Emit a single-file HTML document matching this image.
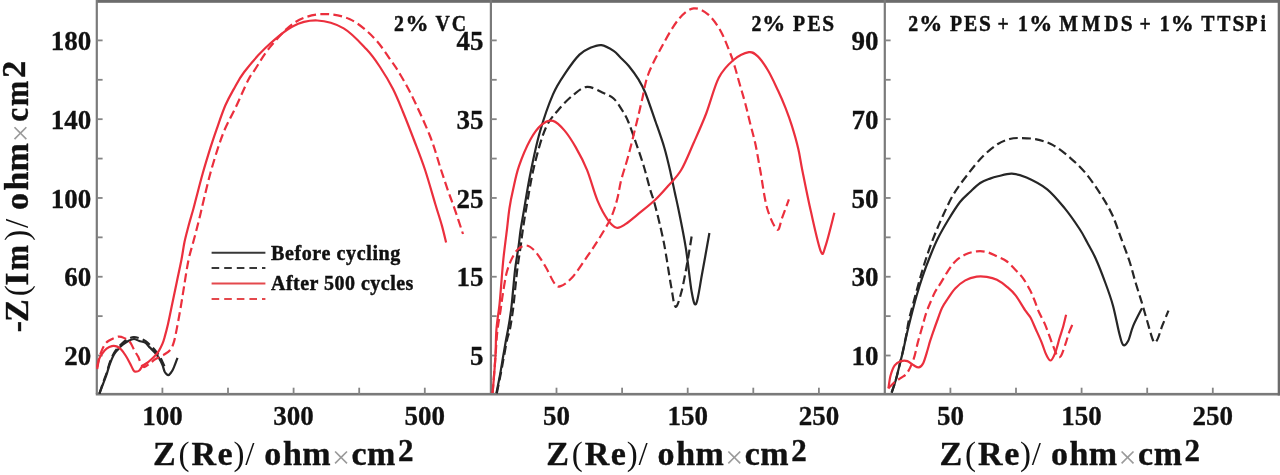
<!DOCTYPE html>
<html><head><meta charset="utf-8"><title>Nyquist plots</title>
<style>html,body{margin:0;padding:0;background:#fff;width:1280px;height:475px;overflow:hidden}svg{display:block;filter:blur(0.35px)}</style>
</head><body>
<svg width="1280" height="475" viewBox="0 0 1280 475">
<rect width="1280" height="475" fill="#fff"/>
<g><rect x="96" y="0" width="1184" height="2.8" fill="#6c6c6c"/><rect x="95.8" y="392.9" width="1184" height="2.6" fill="#7a7a7a"/><rect x="95.70" y="0" width="2.2" height="394.2" fill="#7a7a7a"/><rect x="489.80" y="0" width="2.2" height="394.2" fill="#7a7a7a"/><rect x="883.70" y="0" width="2.2" height="394.2" fill="#7a7a7a"/><rect x="1277.7" y="0" width="2.3" height="395.5" fill="#6c6c6c"/><rect x="96.8" y="39.50" width="5.8" height="1.8" fill="#858585"/><rect x="96.8" y="78.89" width="5.8" height="1.8" fill="#858585"/><rect x="96.8" y="118.28" width="5.8" height="1.8" fill="#858585"/><rect x="96.8" y="157.67" width="5.8" height="1.8" fill="#858585"/><rect x="96.8" y="197.06" width="5.8" height="1.8" fill="#858585"/><rect x="96.8" y="236.45" width="5.8" height="1.8" fill="#858585"/><rect x="96.8" y="275.84" width="5.8" height="1.8" fill="#858585"/><rect x="96.8" y="315.23" width="5.8" height="1.8" fill="#858585"/><rect x="96.8" y="354.62" width="5.8" height="1.8" fill="#858585"/><rect x="490.9" y="39.50" width="5.8" height="1.8" fill="#858585"/><rect x="490.9" y="78.89" width="5.8" height="1.8" fill="#858585"/><rect x="490.9" y="118.28" width="5.8" height="1.8" fill="#858585"/><rect x="490.9" y="157.67" width="5.8" height="1.8" fill="#858585"/><rect x="490.9" y="197.06" width="5.8" height="1.8" fill="#858585"/><rect x="490.9" y="236.45" width="5.8" height="1.8" fill="#858585"/><rect x="490.9" y="275.84" width="5.8" height="1.8" fill="#858585"/><rect x="490.9" y="315.23" width="5.8" height="1.8" fill="#858585"/><rect x="490.9" y="354.62" width="5.8" height="1.8" fill="#858585"/><rect x="884.8" y="39.50" width="5.8" height="1.8" fill="#858585"/><rect x="884.8" y="78.89" width="5.8" height="1.8" fill="#858585"/><rect x="884.8" y="118.28" width="5.8" height="1.8" fill="#858585"/><rect x="884.8" y="157.67" width="5.8" height="1.8" fill="#858585"/><rect x="884.8" y="197.06" width="5.8" height="1.8" fill="#858585"/><rect x="884.8" y="236.45" width="5.8" height="1.8" fill="#858585"/><rect x="884.8" y="275.84" width="5.8" height="1.8" fill="#858585"/><rect x="884.8" y="315.23" width="5.8" height="1.8" fill="#858585"/><rect x="884.8" y="354.62" width="5.8" height="1.8" fill="#858585"/><rect x="161.50" y="387.70" width="1.8" height="6.5" fill="#858585"/><rect x="227.10" y="387.70" width="1.8" height="6.5" fill="#858585"/><rect x="292.70" y="387.70" width="1.8" height="6.5" fill="#858585"/><rect x="358.30" y="387.70" width="1.8" height="6.5" fill="#858585"/><rect x="423.90" y="387.70" width="1.8" height="6.5" fill="#858585"/><rect x="555.60" y="387.70" width="1.8" height="6.5" fill="#858585"/><rect x="621.20" y="387.70" width="1.8" height="6.5" fill="#858585"/><rect x="686.80" y="387.70" width="1.8" height="6.5" fill="#858585"/><rect x="752.40" y="387.70" width="1.8" height="6.5" fill="#858585"/><rect x="818.00" y="387.70" width="1.8" height="6.5" fill="#858585"/><rect x="949.50" y="387.70" width="1.8" height="6.5" fill="#858585"/><rect x="1015.10" y="387.70" width="1.8" height="6.5" fill="#858585"/><rect x="1080.70" y="387.70" width="1.8" height="6.5" fill="#858585"/><rect x="1146.30" y="387.70" width="1.8" height="6.5" fill="#858585"/><rect x="1211.90" y="387.70" width="1.8" height="6.5" fill="#858585"/></g>
<g font-family='"Liberation Serif", serif' font-weight="bold"><text x="91.3" y="50.1" font-size="27" text-anchor="end" fill="#111" stroke="#111" stroke-width="0.3">180</text><text x="91.3" y="128.9" font-size="27" text-anchor="end" fill="#111" stroke="#111" stroke-width="0.3">140</text><text x="91.3" y="207.7" font-size="27" text-anchor="end" fill="#111" stroke="#111" stroke-width="0.3">100</text><text x="91.3" y="286.4" font-size="27" text-anchor="end" fill="#111" stroke="#111" stroke-width="0.3">60</text><text x="91.3" y="365.2" font-size="27" text-anchor="end" fill="#111" stroke="#111" stroke-width="0.3">20</text><text x="483.6" y="50.1" font-size="27" text-anchor="end" fill="#111" stroke="#111" stroke-width="0.3">45</text><text x="483.6" y="128.9" font-size="27" text-anchor="end" fill="#111" stroke="#111" stroke-width="0.3">35</text><text x="483.6" y="207.7" font-size="27" text-anchor="end" fill="#111" stroke="#111" stroke-width="0.3">25</text><text x="483.6" y="286.4" font-size="27" text-anchor="end" fill="#111" stroke="#111" stroke-width="0.3">15</text><text x="483.6" y="365.2" font-size="27" text-anchor="end" fill="#111" stroke="#111" stroke-width="0.3">5</text><text x="878.4" y="50.1" font-size="27" text-anchor="end" fill="#111" stroke="#111" stroke-width="0.3">90</text><text x="878.4" y="128.9" font-size="27" text-anchor="end" fill="#111" stroke="#111" stroke-width="0.3">70</text><text x="878.4" y="207.7" font-size="27" text-anchor="end" fill="#111" stroke="#111" stroke-width="0.3">50</text><text x="878.4" y="286.4" font-size="27" text-anchor="end" fill="#111" stroke="#111" stroke-width="0.3">30</text><text x="878.4" y="365.2" font-size="27" text-anchor="end" fill="#111" stroke="#111" stroke-width="0.3">10</text><text x="162.4" y="424.5" font-size="27" text-anchor="middle" fill="#111" stroke="#111" stroke-width="0.3">100</text><text x="293.6" y="424.5" font-size="27" text-anchor="middle" fill="#111" stroke="#111" stroke-width="0.3">300</text><text x="424.8" y="424.5" font-size="27" text-anchor="middle" fill="#111" stroke="#111" stroke-width="0.3">500</text><text x="556.5" y="424.5" font-size="27" text-anchor="middle" fill="#111" stroke="#111" stroke-width="0.3">50</text><text x="687.7" y="424.5" font-size="27" text-anchor="middle" fill="#111" stroke="#111" stroke-width="0.3">150</text><text x="818.9" y="424.5" font-size="27" text-anchor="middle" fill="#111" stroke="#111" stroke-width="0.3">250</text><text x="950.4" y="424.5" font-size="27" text-anchor="middle" fill="#111" stroke="#111" stroke-width="0.3">50</text><text x="1081.6" y="424.5" font-size="27" text-anchor="middle" fill="#111" stroke="#111" stroke-width="0.3">150</text><text x="1212.8" y="424.5" font-size="27" text-anchor="middle" fill="#111" stroke="#111" stroke-width="0.3">250</text><text transform="translate(394.08,31.00) scale(0.86,1)" font-size="23" font-weight="bold" fill="#111" stroke="#111" stroke-width="0.45">2</text><text x="405.44" y="31.00" font-size="23" font-weight="bold" fill="#111" stroke="#111" stroke-width="0.45">%</text><text transform="translate(435.50,31.00) scale(0.86,1)" font-size="23" font-weight="bold" fill="#111" stroke="#111" stroke-width="0.45">V</text><text transform="translate(451.87,31.00) scale(0.86,1)" font-size="23" font-weight="bold" fill="#111" stroke="#111" stroke-width="0.45">C</text><text transform="translate(751.38,31.00) scale(0.86,1)" font-size="23" font-weight="bold" fill="#111" stroke="#111" stroke-width="0.45">2</text><text x="762.14" y="31.00" font-size="23" font-weight="bold" fill="#111" stroke="#111" stroke-width="0.45">%</text><text transform="translate(792.89,31.00) scale(0.86,1)" font-size="23" font-weight="bold" fill="#111" stroke="#111" stroke-width="0.45">P</text><text transform="translate(807.39,31.00) scale(0.86,1)" font-size="23" font-weight="bold" fill="#111" stroke="#111" stroke-width="0.45">E</text><text transform="translate(822.30,31.00) scale(0.93,1)" font-size="23" font-weight="bold" fill="#111" stroke="#111" stroke-width="0.45">S</text><text transform="translate(908.18,31.00) scale(0.86,1)" font-size="23" font-weight="bold" fill="#111" stroke="#111" stroke-width="0.45">2</text><text x="919.14" y="31.00" font-size="23" font-weight="bold" fill="#111" stroke="#111" stroke-width="0.45">%</text><text transform="translate(949.89,31.00) scale(0.86,1)" font-size="23" font-weight="bold" fill="#111" stroke="#111" stroke-width="0.45">P</text><text transform="translate(963.89,31.00) scale(0.86,1)" font-size="23" font-weight="bold" fill="#111" stroke="#111" stroke-width="0.45">E</text><text transform="translate(978.90,31.00) scale(0.93,1)" font-size="23" font-weight="bold" fill="#111" stroke="#111" stroke-width="0.45">S</text><text transform="translate(997.57,31.00) scale(0.86,1)" font-size="23" font-weight="bold" fill="#111" stroke="#111" stroke-width="0.45">+</text><text transform="translate(1018.05,31.00) scale(0.86,1)" font-size="23" font-weight="bold" fill="#111" stroke="#111" stroke-width="0.45">1</text><text x="1029.14" y="31.00" font-size="23" font-weight="bold" fill="#111" stroke="#111" stroke-width="0.45">%</text><text transform="translate(1059.14,31.00) scale(0.86,1)" font-size="23" font-weight="bold" fill="#111" stroke="#111" stroke-width="0.45">M</text><text transform="translate(1081.69,31.00) scale(0.86,1)" font-size="23" font-weight="bold" fill="#111" stroke="#111" stroke-width="0.45">M</text><text transform="translate(1104.29,31.00) scale(0.86,1)" font-size="23" font-weight="bold" fill="#111" stroke="#111" stroke-width="0.45">D</text><text transform="translate(1120.80,31.00) scale(0.93,1)" font-size="23" font-weight="bold" fill="#111" stroke="#111" stroke-width="0.45">S</text><text transform="translate(1139.57,31.00) scale(0.86,1)" font-size="23" font-weight="bold" fill="#111" stroke="#111" stroke-width="0.45">+</text><text transform="translate(1159.85,31.00) scale(0.86,1)" font-size="23" font-weight="bold" fill="#111" stroke="#111" stroke-width="0.45">1</text><text x="1170.84" y="31.00" font-size="23" font-weight="bold" fill="#111" stroke="#111" stroke-width="0.45">%</text><text transform="translate(1201.29,31.00) scale(0.86,1)" font-size="23" font-weight="bold" fill="#111" stroke="#111" stroke-width="0.45">T</text><text transform="translate(1217.29,31.00) scale(0.86,1)" font-size="23" font-weight="bold" fill="#111" stroke="#111" stroke-width="0.45">T</text><text transform="translate(1232.50,31.00) scale(0.93,1)" font-size="23" font-weight="bold" fill="#111" stroke="#111" stroke-width="0.45">S</text><text transform="translate(1245.39,31.00) scale(0.86,1)" font-size="23" font-weight="bold" fill="#111" stroke="#111" stroke-width="0.45">P</text><text transform="translate(1260.39,31.00) scale(0.86,1)" font-size="23" font-weight="bold" fill="#111" stroke="#111" stroke-width="0.45">i</text><text x="153.01" y="465.00" font-size="34" font-weight="bold" fill="#111" stroke="#111" stroke-width="0.35">Z</text><text x="178.47" y="465.00" font-size="33" font-weight="normal" fill="#111">(</text><text x="191.47" y="465.00" font-size="34" font-weight="bold" fill="#111" stroke="#111" stroke-width="0.35">R</text><text x="217.54" y="465.00" font-size="34" font-weight="bold" fill="#111" stroke="#111" stroke-width="0.35">e</text><text x="233.47" y="465.00" font-size="33" font-weight="normal" fill="#111">)</text><text x="245.20" y="465.00" font-size="33" font-weight="normal" fill="#111">/</text><text x="264.34" y="465.00" font-size="34" font-weight="bold" fill="#111" stroke="#111" stroke-width="0.35">o</text><text x="282.97" y="465.00" font-size="34" font-weight="bold" fill="#111" stroke="#111" stroke-width="0.35">h</text><text x="302.27" y="465.00" font-size="34" font-weight="bold" fill="#111" stroke="#111" stroke-width="0.35">m</text><text x="332.00" y="468.00" font-size="32" font-weight="normal" fill="#9a9a9a">×</text><text x="351.44" y="465.00" font-size="34" font-weight="bold" fill="#111" stroke="#111" stroke-width="0.35">c</text><text x="367.07" y="465.00" font-size="34" font-weight="bold" fill="#111" stroke="#111" stroke-width="0.35">m</text><text x="397.93" y="461.00" font-size="31" font-weight="bold" fill="#111" stroke="#111" stroke-width="0.35">2</text><text x="546.21" y="465.00" font-size="34" font-weight="bold" fill="#111" stroke="#111" stroke-width="0.35">Z</text><text x="571.67" y="465.00" font-size="33" font-weight="normal" fill="#111">(</text><text x="584.67" y="465.00" font-size="34" font-weight="bold" fill="#111" stroke="#111" stroke-width="0.35">R</text><text x="610.74" y="465.00" font-size="34" font-weight="bold" fill="#111" stroke="#111" stroke-width="0.35">e</text><text x="626.67" y="465.00" font-size="33" font-weight="normal" fill="#111">)</text><text x="638.40" y="465.00" font-size="33" font-weight="normal" fill="#111">/</text><text x="657.54" y="465.00" font-size="34" font-weight="bold" fill="#111" stroke="#111" stroke-width="0.35">o</text><text x="676.17" y="465.00" font-size="34" font-weight="bold" fill="#111" stroke="#111" stroke-width="0.35">h</text><text x="695.47" y="465.00" font-size="34" font-weight="bold" fill="#111" stroke="#111" stroke-width="0.35">m</text><text x="725.20" y="468.00" font-size="32" font-weight="normal" fill="#9a9a9a">×</text><text x="744.64" y="465.00" font-size="34" font-weight="bold" fill="#111" stroke="#111" stroke-width="0.35">c</text><text x="760.27" y="465.00" font-size="34" font-weight="bold" fill="#111" stroke="#111" stroke-width="0.35">m</text><text x="791.13" y="461.00" font-size="31" font-weight="bold" fill="#111" stroke="#111" stroke-width="0.35">2</text><text x="939.61" y="465.00" font-size="34" font-weight="bold" fill="#111" stroke="#111" stroke-width="0.35">Z</text><text x="965.07" y="465.00" font-size="33" font-weight="normal" fill="#111">(</text><text x="978.07" y="465.00" font-size="34" font-weight="bold" fill="#111" stroke="#111" stroke-width="0.35">R</text><text x="1004.14" y="465.00" font-size="34" font-weight="bold" fill="#111" stroke="#111" stroke-width="0.35">e</text><text x="1020.07" y="465.00" font-size="33" font-weight="normal" fill="#111">)</text><text x="1031.80" y="465.00" font-size="33" font-weight="normal" fill="#111">/</text><text x="1050.94" y="465.00" font-size="34" font-weight="bold" fill="#111" stroke="#111" stroke-width="0.35">o</text><text x="1069.57" y="465.00" font-size="34" font-weight="bold" fill="#111" stroke="#111" stroke-width="0.35">h</text><text x="1088.87" y="465.00" font-size="34" font-weight="bold" fill="#111" stroke="#111" stroke-width="0.35">m</text><text x="1118.60" y="468.00" font-size="32" font-weight="normal" fill="#9a9a9a">×</text><text x="1138.04" y="465.00" font-size="34" font-weight="bold" fill="#111" stroke="#111" stroke-width="0.35">c</text><text x="1153.67" y="465.00" font-size="34" font-weight="bold" fill="#111" stroke="#111" stroke-width="0.35">m</text><text x="1184.53" y="461.00" font-size="31" font-weight="bold" fill="#111" stroke="#111" stroke-width="0.35">2</text><text transform="translate(27.70,332.36) rotate(-90)" font-size="34" font-weight="bold" fill="#111" stroke="#111" stroke-width="0.35">-</text><text transform="translate(27.70,321.89) rotate(-90)" font-size="34" font-weight="bold" fill="#111" stroke="#111" stroke-width="0.35">Z</text><text transform="translate(27.70,296.33) rotate(-90)" font-size="33" font-weight="normal" fill="#111">(</text><text transform="translate(27.70,285.86) rotate(-90)" font-size="34" font-weight="bold" fill="#111" stroke="#111" stroke-width="0.35">I</text><text transform="translate(27.70,270.38) rotate(-90) scale(0.9,1)" font-size="34" font-weight="bold" fill="#111" stroke="#111" stroke-width="0.35">m</text><text transform="translate(27.70,240.83) rotate(-90)" font-size="33" font-weight="normal" fill="#111">)</text><text transform="translate(27.70,227.90) rotate(-90)" font-size="33" font-weight="normal" fill="#111">/</text><text transform="translate(27.70,209.96) rotate(-90)" font-size="34" font-weight="bold" fill="#111" stroke="#111" stroke-width="0.35">o</text><text transform="translate(27.70,190.43) rotate(-90)" font-size="34" font-weight="bold" fill="#111" stroke="#111" stroke-width="0.35">h</text><text transform="translate(27.70,171.43) rotate(-90)" font-size="34" font-weight="bold" fill="#111" stroke="#111" stroke-width="0.35">m</text><text transform="translate(30.70,142.30) rotate(-90)" font-size="32" font-weight="normal" fill="#9a9a9a">×</text><text transform="translate(27.70,121.68) rotate(-90) scale(0.92,1)" font-size="34" font-weight="bold" fill="#111" stroke="#111" stroke-width="0.35">c</text><text transform="translate(27.70,106.18) rotate(-90) scale(0.9,1)" font-size="34" font-weight="bold" fill="#111" stroke="#111" stroke-width="0.35">m</text><text transform="translate(24.90,77.98) rotate(-90) scale(1.05,1)" font-size="33" font-weight="bold" fill="#111" stroke="#111" stroke-width="0.35">2</text><text x="271" y="259.6" font-size="20" text-anchor="start" letter-spacing="0.62" fill="#111" stroke="#111" stroke-width="0.45">Before cycling</text><text x="271" y="290.3" font-size="20" text-anchor="start" letter-spacing="0.48" fill="#111" stroke="#111" stroke-width="0.45">After 500 cycles</text></g>
<g><line x1="211.6" y1="252.8" x2="265.4" y2="252.8" stroke="#383838" stroke-width="2"/><line x1="211.6" y1="268" x2="265.4" y2="268" stroke="#383838" stroke-width="2" stroke-dasharray="7.6 5"/><line x1="211.6" y1="283.4" x2="265.4" y2="283.4" stroke="#e4484c" stroke-width="2"/><line x1="211.6" y1="299" x2="265.4" y2="299" stroke="#e4484c" stroke-width="2" stroke-dasharray="7.6 5"/></g>
<g><path d="M99.4,393.6 C100.0,391.8 101.8,386.4 103.0,383.0 C104.2,379.6 105.4,376.5 106.6,373.0 C107.8,369.5 108.8,365.3 110.0,362.0 C111.2,358.7 112.6,355.4 114.0,353.0 C115.4,350.6 116.7,349.2 118.2,347.5 C119.7,345.8 121.2,344.0 123.0,342.5 C124.8,341.0 127.2,339.4 129.0,338.5 C130.8,337.6 132.2,337.0 134.0,337.0 C135.8,337.0 138.0,337.8 140.0,338.5 C142.0,339.2 144.2,340.2 146.0,341.5 C147.8,342.8 149.3,344.3 151.0,346.0 C152.7,347.7 154.5,349.7 156.0,351.5 C157.5,353.3 158.8,355.1 160.0,357.0 C161.2,358.9 162.1,361.0 163.0,363.0 C163.9,365.0 165.1,368.0 165.5,369.0" fill="none" stroke="#262626" stroke-width="2.2" stroke-linejoin="round" stroke-dasharray="8.8 4.3"/><path d="M99.4,393.6 C100.0,392.0 101.8,387.2 103.0,384.0 C104.2,380.8 105.5,377.8 106.6,374.5 C107.7,371.2 108.6,367.3 109.8,364.0 C111.0,360.7 112.6,357.0 114.0,354.5 C115.4,352.0 116.8,350.8 118.2,349.2 C119.6,347.6 120.7,346.4 122.4,345.0 C124.2,343.6 126.8,341.8 128.7,340.8 C130.6,339.8 132.2,339.0 134.0,339.0 C135.8,339.0 137.5,340.4 139.3,341.0 C141.2,341.6 143.4,341.6 145.1,342.7 C146.8,343.8 148.2,345.8 149.7,347.4 C151.2,348.9 152.8,350.3 154.3,352.0 C155.8,353.7 157.6,355.7 158.9,357.8 C160.2,359.9 161.4,362.4 162.4,364.7 C163.4,367.0 163.7,369.9 164.7,371.7 C165.7,373.4 167.0,375.2 168.2,375.2 C169.4,375.2 170.7,373.0 171.7,371.7 C172.7,370.4 173.0,369.4 174.0,367.1 C175.0,364.8 176.9,359.4 177.5,357.8" fill="none" stroke="#262626" stroke-width="2.2" stroke-linejoin="round"/><path d="M97.2,367.1 C97.5,365.9 98.0,362.3 98.7,359.7 C99.4,357.1 100.4,353.8 101.4,351.3 C102.4,348.9 103.3,346.8 104.5,345.0 C105.7,343.2 106.4,342.2 108.7,340.8 C111.0,339.4 115.6,337.0 118.2,336.6 C120.8,336.2 122.6,337.3 124.5,338.2 C126.4,339.1 128.1,339.7 129.8,341.8 C131.5,343.9 133.2,348.3 134.6,350.8 C136.0,353.3 137.0,354.5 138.1,356.6 C139.2,358.7 140.0,361.9 141.0,363.6 C142.0,365.4 142.5,367.1 143.9,367.1 C145.3,367.1 147.8,365.0 149.7,363.6 C151.6,362.2 153.2,360.4 155.5,359.0 C157.8,357.6 161.1,356.4 163.6,354.9 C166.1,353.3 168.8,351.9 170.5,349.7 C172.2,347.5 172.9,345.2 174.0,341.6 C175.1,338.0 175.8,333.6 176.9,328.1 C178.0,322.6 179.3,315.3 180.5,308.4 C181.7,301.5 182.7,295.0 184.0,286.9 C185.3,278.8 186.9,267.8 188.5,260.0 C190.1,252.2 192.1,246.7 193.8,240.0 C195.6,233.3 197.3,226.9 199.0,220.0 C200.7,213.1 202.1,206.6 204.0,198.8 C205.9,191.1 208.0,181.9 210.3,173.5 C212.6,165.1 215.4,155.8 217.9,148.2 C220.4,140.6 222.5,134.7 225.4,128.0 C228.3,121.3 231.7,115.8 235.5,107.8 C239.3,99.8 245.0,86.3 248.2,80.0 C251.4,73.7 251.0,75.5 254.6,70.1 C258.2,64.7 263.2,55.3 269.8,47.4 C276.4,39.5 285.9,28.2 294.4,22.7 C302.9,17.2 311.8,14.8 321.0,14.2 C330.2,13.6 340.6,15.1 349.4,19.0 C358.2,22.9 366.9,30.7 374.0,37.9 C381.1,45.1 387.9,56.3 392.0,62.0 C396.1,67.7 395.4,66.3 398.7,72.0 C402.0,77.7 406.8,85.3 412.0,96.0 C417.2,106.7 425.1,123.7 430.0,136.0 C434.9,148.3 438.1,161.0 441.1,170.0 C444.1,179.0 445.6,183.7 447.8,190.2 C450.1,196.7 452.1,201.5 454.6,208.8 C457.1,216.1 461.6,229.8 463.0,234.0" fill="none" stroke="#eb2f3d" stroke-width="2.2" stroke-linejoin="round" stroke-dasharray="8.8 4.3"/><path d="M97.2,369.0 C97.5,367.3 98.4,361.3 99.3,358.7 C100.2,356.1 101.2,355.1 102.4,353.4 C103.6,351.7 105.0,349.9 106.6,348.7 C108.2,347.5 110.1,346.5 111.9,346.1 C113.7,345.8 115.6,346.0 117.2,346.6 C118.8,347.2 120.0,348.2 121.4,349.7 C122.8,351.2 124.2,353.3 125.6,355.5 C127.0,357.7 128.5,360.4 129.8,362.9 C131.1,365.4 132.5,368.8 133.5,370.3 C134.5,371.8 134.8,371.7 135.8,371.7 C136.8,371.7 138.2,371.5 139.3,370.5 C140.5,369.5 141.2,367.3 142.7,365.9 C144.2,364.4 146.6,363.4 148.5,361.8 C150.4,360.2 152.6,358.4 154.3,356.6 C156.0,354.8 157.6,352.9 158.9,350.8 C160.2,348.7 161.4,346.2 162.4,343.9 C163.4,341.6 163.8,340.1 164.7,336.9 C165.6,333.7 166.6,330.1 167.9,324.5 C169.2,318.9 170.9,310.2 172.4,303.0 C173.9,295.8 175.4,288.7 176.9,281.5 C178.4,274.3 180.1,266.6 181.4,260.0 C182.7,253.4 183.3,247.7 184.5,242.0 C185.7,236.3 187.2,231.0 188.5,226.0 C189.8,221.0 191.2,216.5 192.5,212.0 C193.8,207.5 194.3,205.2 196.0,198.8 C197.7,192.4 200.3,181.9 202.7,173.5 C205.1,165.1 208.0,155.6 210.3,148.2 C212.6,140.8 214.1,136.5 216.6,129.3 C219.1,122.2 222.5,112.0 225.4,105.3 C228.3,98.6 230.7,94.6 233.8,89.1 C236.9,83.5 239.0,78.8 244.2,72.0 C249.4,65.2 257.1,55.9 265.1,48.3 C273.2,40.7 283.8,31.1 292.5,26.5 C301.2,21.9 308.7,20.2 317.2,20.5 C325.7,20.8 335.5,23.6 343.7,28.4 C351.9,33.2 360.4,42.9 366.5,49.3 C372.6,55.7 375.6,60.4 380.0,67.0 C384.4,73.6 389.2,81.6 393.0,89.1 C396.8,96.6 399.5,103.5 403.0,112.0 C406.5,120.5 410.3,130.3 414.0,140.0 C417.7,149.7 421.6,159.4 425.1,170.0 C428.6,180.6 432.4,194.4 435.2,203.7 C438.0,213.0 440.1,219.1 441.9,225.6 C443.7,232.1 445.4,239.7 446.1,242.5" fill="none" stroke="#eb2f3d" stroke-width="2.2" stroke-linejoin="round"/><path d="M496.8,393.3 C497.4,390.2 499.3,381.0 500.5,375.0 C501.7,369.0 502.7,363.1 503.8,357.3 C504.9,351.5 506.0,344.6 507.0,340.0 C508.0,335.4 508.8,334.8 509.8,329.8 C510.8,324.8 512.1,316.6 513.0,309.8 C513.9,303.0 514.5,295.8 515.2,288.8 C516.0,281.8 516.6,274.8 517.5,267.8 C518.4,260.8 519.7,253.1 520.6,246.8 C521.5,240.5 521.8,236.5 522.8,230.0 C523.8,223.5 524.4,218.6 526.3,208.0 C528.2,197.4 530.9,179.7 534.1,166.4 C537.3,153.2 541.4,138.0 545.5,128.5 C549.6,119.0 554.0,115.2 558.7,109.5 C563.4,103.8 569.2,98.2 573.9,94.4 C578.6,90.6 582.4,87.1 587.1,86.8 C591.8,86.5 597.9,90.5 602.3,92.5 C606.7,94.5 610.3,95.6 613.6,98.5 C616.9,101.4 619.5,106.1 622.0,110.0 C624.5,113.9 626.1,116.5 628.4,122.0 C630.7,127.5 633.4,135.5 636.0,143.0 C638.6,150.5 641.7,159.3 644.0,167.0 C646.3,174.7 648.2,182.7 650.0,189.0 C651.8,195.3 652.7,196.2 655.0,205.0 C657.3,213.8 661.0,228.4 663.7,241.9 C666.4,255.4 669.1,275.3 671.1,286.1 C673.1,296.9 673.8,305.7 675.5,306.7 C677.2,307.7 679.4,299.4 681.4,292.0 C683.4,284.6 685.6,271.8 687.3,262.5 C689.0,253.2 691.0,240.4 691.7,236.0" fill="none" stroke="#262626" stroke-width="2.2" stroke-linejoin="round" stroke-dasharray="8.8 4.3"/><path d="M496.4,393.3 C497.0,390.2 498.9,381.0 500.0,375.0 C501.1,369.0 502.0,363.1 503.0,357.3 C504.0,351.5 505.2,344.6 506.0,340.0 C506.8,335.4 507.1,334.8 508.0,329.8 C508.9,324.8 510.2,316.6 511.1,309.8 C512.0,303.0 512.5,295.8 513.2,288.8 C513.9,281.8 514.4,274.8 515.3,267.8 C516.2,260.8 517.6,253.1 518.5,246.8 C519.4,240.5 519.7,236.1 520.6,230.0 C521.5,223.9 522.4,219.3 524.0,210.0 C525.6,200.7 527.7,186.9 530.3,174.0 C532.9,161.1 536.0,145.6 539.8,132.3 C543.6,119.0 548.6,104.5 553.0,94.4 C557.4,84.3 561.9,78.3 566.3,71.7 C570.7,65.1 575.5,58.6 579.5,54.6 C583.5,50.6 586.4,49.6 590.0,48.0 C593.6,46.4 597.5,44.6 601.4,45.1 C605.3,45.6 610.5,48.8 613.6,50.8 C616.7,52.8 617.5,54.5 620.0,57.0 C622.5,59.5 625.8,62.3 628.8,66.0 C631.8,69.7 635.6,74.8 638.3,79.2 C641.0,83.6 642.3,85.4 645.2,92.5 C648.1,99.6 652.5,112.9 655.7,122.0 C658.9,131.1 661.7,138.8 664.2,147.2 C666.7,155.6 668.8,164.9 670.5,172.4 C672.2,179.9 673.4,185.8 674.7,192.0 C676.0,198.2 676.6,200.2 678.5,209.5 C680.4,218.8 683.6,234.1 685.8,247.8 C688.0,261.6 690.0,282.7 691.7,292.0 C693.4,301.3 694.5,306.6 696.2,303.7 C697.9,300.8 699.8,286.1 702.0,274.3 C704.2,262.5 708.2,239.9 709.4,233.0" fill="none" stroke="#262626" stroke-width="2.2" stroke-linejoin="round"/><path d="M492.6,393.0 C493.1,387.1 494.6,367.8 495.4,357.3 C496.2,346.8 496.6,337.7 497.5,329.8 C498.4,321.9 499.7,316.1 500.6,310.0 C501.5,303.9 502.0,299.1 503.0,293.0 C504.0,286.9 505.1,278.9 506.5,273.3 C507.9,267.7 509.6,263.4 511.5,259.4 C513.4,255.4 515.4,251.6 517.9,249.3 C520.4,247.0 523.8,245.1 526.7,245.5 C529.6,245.9 532.3,248.2 535.5,251.8 C538.7,255.4 542.5,261.7 545.7,267.0 C548.9,272.3 552.0,280.2 554.5,283.4 C557.0,286.6 557.6,287.1 560.6,286.1 C563.6,285.1 568.0,282.1 572.4,277.2 C576.8,272.3 582.7,263.0 587.1,256.6 C591.5,250.2 595.0,245.3 598.9,238.9 C602.8,232.5 607.7,224.8 610.7,218.3 C613.7,211.8 615.2,206.4 617.0,200.0 C618.8,193.6 619.3,187.4 621.2,180.0 C623.1,172.6 625.8,165.3 628.4,155.6 C631.0,145.9 634.5,131.3 636.8,122.0 C639.1,112.7 640.1,107.8 642.0,100.0 C643.9,92.2 644.7,84.0 648.0,75.0 C651.3,66.0 656.9,55.6 662.0,46.3 C667.1,36.9 673.6,25.2 678.9,18.9 C684.2,12.6 688.7,9.1 693.6,8.4 C698.5,7.7 703.8,10.8 708.3,14.7 C712.8,18.6 717.1,24.6 720.9,31.5 C724.7,38.4 728.9,50.0 731.3,56.0 C733.7,62.0 733.6,62.9 735.1,67.8 C736.6,72.7 738.4,79.6 740.1,85.5 C741.8,91.4 743.5,96.9 745.2,103.2 C746.9,109.5 748.5,116.7 750.2,123.4 C751.9,130.1 753.6,135.8 755.3,143.6 C757.0,151.4 758.2,159.3 760.2,170.0 C762.2,180.7 764.2,197.8 767.0,207.7 C769.8,217.6 774.6,227.9 777.1,229.6 C779.6,231.3 780.1,222.9 782.1,217.9 C784.1,212.9 787.8,202.4 788.9,199.3" fill="none" stroke="#eb2f3d" stroke-width="2.2" stroke-linejoin="round" stroke-dasharray="8.8 4.3"/><path d="M492.6,393.0 C493.1,387.1 494.8,367.8 495.4,357.3 C496.0,346.8 495.7,338.8 496.4,329.8 C497.1,320.8 498.7,312.1 499.6,303.5 C500.5,294.9 501.0,286.4 501.7,278.3 C502.4,270.2 502.9,263.2 503.8,255.2 C504.7,247.1 505.9,237.9 506.9,230.0 C507.8,222.1 508.5,214.7 509.5,208.0 C510.5,201.3 511.4,196.9 513.0,190.0 C514.6,183.1 516.0,174.8 518.9,166.4 C521.8,158.0 526.5,146.8 530.3,139.8 C534.1,132.9 537.9,127.9 541.7,124.7 C545.5,121.5 549.2,120.0 553.0,120.9 C556.8,121.9 560.6,126.0 564.4,130.4 C568.2,134.8 572.0,140.8 575.8,147.4 C579.6,154.0 583.5,161.3 587.1,170.2 C590.7,179.1 594.0,192.3 597.5,200.6 C601.0,208.9 604.6,215.3 607.8,219.8 C611.0,224.3 613.7,227.0 616.6,227.7 C619.5,228.4 621.5,226.8 625.4,224.2 C629.3,221.6 635.3,216.4 640.2,212.4 C645.1,208.4 650.4,204.4 655.0,200.0 C659.6,195.6 663.7,190.9 668.0,186.0 C672.3,181.1 676.7,177.5 681.0,170.3 C685.3,163.1 689.4,152.5 693.6,143.0 C697.8,133.5 702.0,124.4 706.2,113.5 C710.4,102.6 714.2,86.7 718.8,77.8 C723.3,68.9 728.5,64.3 733.5,60.0 C738.5,55.7 744.9,52.7 748.9,52.1 C752.9,51.5 754.6,53.4 757.8,56.4 C761.0,59.4 764.5,64.6 767.9,70.3 C771.3,76.0 775.0,84.2 778.0,90.5 C781.0,96.8 783.3,102.3 785.6,108.2 C787.9,114.1 789.8,119.2 791.9,125.9 C794.0,132.6 796.5,141.1 798.2,148.6 C800.0,156.1 800.3,160.3 802.4,170.7 C804.5,181.1 807.7,197.6 810.8,211.1 C813.9,224.6 818.4,246.0 820.9,251.6 C823.4,257.2 823.6,251.3 825.9,244.8 C828.1,238.3 833.0,218.1 834.4,212.8" fill="none" stroke="#eb2f3d" stroke-width="2.2" stroke-linejoin="round"/><path d="M891.6,392.6 C892.3,390.5 894.4,384.9 895.8,380.0 C897.2,375.1 898.8,368.1 900.0,363.2 C901.2,358.3 902.0,355.2 903.0,350.5 C904.0,345.8 905.3,340.1 906.3,335.0 C907.3,329.9 907.4,326.5 908.9,320.0 C910.4,313.5 913.1,303.8 915.2,296.0 C917.3,288.2 919.4,280.4 921.5,273.3 C923.6,266.2 925.6,259.6 927.9,253.1 C930.1,246.5 932.5,240.3 935.0,234.0 C937.5,227.7 939.9,222.2 943.0,215.5 C946.1,208.8 949.5,201.0 953.7,194.0 C957.9,187.0 963.5,179.8 968.4,173.5 C973.3,167.2 978.3,160.9 983.2,156.0 C988.1,151.1 993.5,146.8 997.9,144.0 C1002.3,141.2 1006.4,140.0 1009.7,139.0 C1013.0,138.0 1013.4,138.0 1017.7,138.0 C1022.0,138.0 1029.5,138.0 1035.4,139.2 C1041.3,140.4 1047.1,141.9 1053.0,145.1 C1058.9,148.3 1065.3,153.7 1070.7,158.3 C1076.1,163.0 1080.6,167.1 1085.5,173.0 C1090.4,178.9 1095.8,186.8 1100.2,193.7 C1104.6,200.6 1108.5,206.9 1112.0,214.3 C1115.5,221.7 1118.1,230.2 1121.0,238.0 C1123.9,245.8 1127.0,253.5 1129.4,261.0 C1131.9,268.5 1133.6,276.0 1135.7,283.0 C1137.8,290.0 1140.1,296.9 1142.0,303.2 C1143.9,309.5 1145.2,314.5 1147.1,320.8 C1149.0,327.1 1151.7,337.9 1153.4,341.1 C1155.1,344.3 1155.7,342.3 1157.2,339.8 C1158.7,337.3 1160.3,330.8 1162.2,325.9 C1164.1,321.0 1167.5,313.2 1168.5,310.7" fill="none" stroke="#262626" stroke-width="2.2" stroke-linejoin="round" stroke-dasharray="8.8 4.3"/><path d="M891.6,392.6 C892.3,390.5 894.4,384.9 895.8,380.0 C897.2,375.1 898.8,368.1 900.0,363.2 C901.2,358.3 902.1,355.4 903.2,350.5 C904.3,345.6 905.6,339.1 906.8,334.0 C908.0,328.9 908.6,326.3 910.2,320.0 C911.8,313.7 914.4,303.4 916.5,296.0 C918.6,288.6 920.5,282.4 922.8,275.8 C925.0,269.2 927.5,262.7 930.0,256.5 C932.5,250.3 934.7,244.7 937.8,238.5 C940.9,232.3 944.8,225.6 948.5,219.5 C952.2,213.4 956.4,206.6 960.0,202.0 C963.6,197.4 966.6,195.2 970.0,192.0 C973.4,188.8 976.9,185.2 980.2,183.0 C983.5,180.8 987.0,179.7 990.0,178.6 C993.0,177.5 994.3,177.1 997.9,176.3 C1001.5,175.5 1007.0,173.4 1011.8,173.6 C1016.6,173.8 1020.6,174.9 1026.5,177.5 C1032.4,180.1 1040.8,184.2 1047.2,189.3 C1053.6,194.5 1059.4,201.8 1064.8,208.4 C1070.2,215.0 1075.9,223.4 1079.6,229.0 C1083.3,234.6 1084.4,237.2 1087.0,242.0 C1089.6,246.8 1092.2,250.9 1095.3,257.7 C1098.4,264.5 1102.5,275.0 1105.4,283.0 C1108.4,291.0 1110.7,297.3 1113.0,305.7 C1115.3,314.1 1117.6,327.0 1119.3,333.5 C1121.0,340.0 1121.6,343.6 1123.1,344.9 C1124.6,346.2 1126.4,344.3 1128.1,341.1 C1129.8,337.9 1130.9,331.4 1133.2,325.9 C1135.5,320.4 1140.5,311.1 1142.0,308.2" fill="none" stroke="#262626" stroke-width="2.2" stroke-linejoin="round"/><path d="M888.4,388.4 C889.5,387.3 892.6,383.9 894.7,382.1 C896.8,380.4 898.9,379.5 901.0,377.9 C903.1,376.3 905.3,375.8 907.4,372.6 C909.5,369.4 912.0,364.0 913.7,358.9 C915.5,353.8 916.5,347.4 917.9,342.1 C919.3,336.9 920.7,332.3 922.1,327.4 C923.5,322.5 924.8,317.0 926.3,312.6 C927.8,308.2 929.5,304.4 931.0,301.0 C932.5,297.6 933.5,294.8 935.0,292.0 C936.5,289.2 937.9,287.6 940.0,284.2 C942.1,280.8 945.1,275.4 947.6,271.6 C950.1,267.8 952.2,264.4 955.2,261.5 C958.2,258.6 961.7,256.2 965.3,254.5 C968.9,252.8 973.1,251.8 976.7,251.4 C980.3,251.0 983.4,251.2 986.8,252.0 C990.2,252.8 993.5,254.8 996.9,256.4 C1000.3,258.0 1003.9,259.2 1007.0,261.5 C1010.1,263.8 1013.1,267.5 1015.8,270.3 C1018.5,273.1 1020.7,275.0 1023.1,278.3 C1025.5,281.6 1028.1,286.4 1030.0,290.0 C1031.9,293.6 1032.9,296.4 1034.4,300.0 C1035.9,303.6 1037.1,307.9 1038.8,311.8 C1040.5,315.7 1043.0,319.7 1044.7,323.6 C1046.4,327.5 1047.7,331.5 1049.2,335.4 C1050.7,339.3 1052.2,343.8 1053.6,347.2 C1054.9,350.6 1056.1,354.5 1057.3,356.0 C1058.5,357.5 1059.7,358.0 1061.0,356.0 C1062.3,354.0 1064.1,348.1 1065.4,344.2 C1066.8,340.3 1067.9,335.8 1069.1,332.4 C1070.3,329.0 1072.2,325.1 1072.8,323.6" fill="none" stroke="#eb2f3d" stroke-width="2.2" stroke-linejoin="round" stroke-dasharray="8.8 4.3"/><path d="M888.4,388.4 C888.8,386.3 889.5,379.6 890.5,375.8 C891.5,372.0 893.0,367.8 894.7,365.3 C896.5,362.9 898.9,361.8 901.0,361.1 C903.1,360.4 905.3,360.4 907.4,361.1 C909.5,361.8 911.8,364.2 913.7,365.3 C915.6,366.4 917.3,367.8 918.9,367.4 C920.5,367.0 921.8,366.0 923.2,363.2 C924.6,360.4 926.3,354.1 927.4,350.5 C928.5,346.9 929.1,344.1 930.0,341.3 C930.9,338.5 931.3,337.5 932.6,333.7 C933.9,329.9 936.4,322.8 938.0,318.5 C939.6,314.2 940.4,311.2 942.0,308.0 C943.6,304.8 945.4,302.2 947.6,299.0 C949.8,295.8 952.2,291.6 955.2,288.5 C958.2,285.4 961.7,282.4 965.3,280.4 C968.9,278.4 973.1,277.3 976.7,276.7 C980.3,276.1 983.4,276.4 986.8,276.9 C990.2,277.4 993.5,278.1 996.9,279.8 C1000.3,281.5 1003.9,284.2 1007.0,286.8 C1010.1,289.4 1012.7,291.5 1015.8,295.6 C1018.9,299.7 1023.3,307.6 1025.8,311.2 C1028.2,314.8 1028.8,314.4 1030.5,317.5 C1032.2,320.6 1034.0,325.3 1035.9,329.5 C1037.8,333.7 1040.1,338.6 1041.8,342.8 C1043.5,347.0 1044.7,351.7 1046.2,354.6 C1047.7,357.6 1049.1,360.8 1050.6,360.5 C1052.1,360.2 1053.6,356.8 1055.1,353.1 C1056.6,349.4 1058.2,342.7 1059.5,338.3 C1060.8,333.9 1062.1,330.4 1063.2,326.5 C1064.3,322.6 1065.6,316.7 1066.1,314.7" fill="none" stroke="#eb2f3d" stroke-width="2.2" stroke-linejoin="round"/></g>
</svg>
</body></html>
